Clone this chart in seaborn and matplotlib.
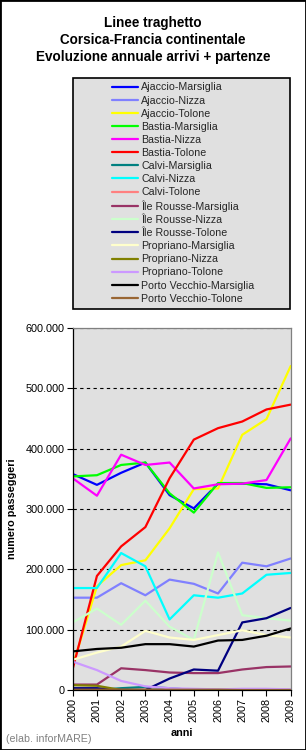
import matplotlib
matplotlib.use("Agg")
import matplotlib.pyplot as plt
from matplotlib.patches import Rectangle
from matplotlib.ticker import FuncFormatter
import seaborn as sns
import pandas as pd

# ---------------- data ----------------
years = [2000, 2001, 2002, 2003, 2004, 2005, 2006, 2007, 2008, 2009]

routes = [
    "Ajaccio-Marsiglia", "Ajaccio-Nizza", "Ajaccio-Tolone",
    "Bastia-Marsiglia", "Bastia-Nizza", "Bastia-Tolone",
    "Calvi-Marsiglia", "Calvi-Nizza", "Calvi-Tolone",
    "Île Rousse-Marsiglia", "Île Rousse-Nizza", "Île Rousse-Tolone",
    "Propriano-Marsiglia", "Propriano-Nizza", "Propriano-Tolone",
    "Porto Vecchio-Marsiglia", "Porto Vecchio-Tolone",
]

colors = [
    "#0000FF", "#8080FF", "#FFFF00",
    "#00FF00", "#FF00FF", "#FF0000",
    "#008080", "#00FFFF", "#FF8080",
    "#993366", "#CCFFCC", "#000080",
    "#FFFFCC", "#808000", "#CC99FF",
    "#000000", "#996633",
]

ajaccio_marsiglia = [358000, 340000, 360000, 377000, 323000, 301000, 342000, 342000, 341000, 331000]
ajaccio_nizza = [153000, 153000, 177000, 157000, 183000, 176000, 160000, 211000, 205000, 218000]
ajaccio_tolone = [40000, 172000, 207000, 215000, 268000, 333000, 334000, 423000, 449000, 537000]
bastia_marsiglia = [354000, 356000, 373000, 377000, 326000, 294000, 343000, 343000, 335000, 336000]
bastia_nizza = [351000, 322000, 390000, 373000, 377000, 334000, 341000, 342000, 348000, 417000]
bastia_tolone = [35000, 189000, 238000, 270000, 351000, 415000, 434000, 445000, 465000, 473000]
calvi_marsiglia = [0, 0, 3000, 5000, 3000, 0, 0, 0, 0, 0]
calvi_nizza = [169000, 169000, 227000, 205000, 117000, 157000, 153000, 160000, 191000, 194000]
calvi_tolone = [0, 0, 0, 0, 0, 0, 0, 1500, 1500, 0]
ile_rousse_marsiglia = [9000, 9000, 36000, 33000, 29000, 28000, 28000, 34000, 38000, 39000]
ile_rousse_nizza = [112000, 135000, 108000, 148000, 105000, 83000, 228000, 124000, 119000, 115000]
ile_rousse_tolone = [3000, 3000, 0, 0, 19000, 34000, 32000, 112000, 119000, 136000]
propriano_marsiglia = [50000, 62000, 72000, 98000, 87000, 83000, 91000, 99000, 91000, 87000]
propriano_nizza = [8000, 7000, 0, 0, 0, 0, 0, 0, 0, 0]
propriano_tolone = [47000, 33000, 15000, 6000, 3000, 2000, 1000, 2000, 2000, 1000]
porto_vecchio_marsiglia = [64000, 68000, 70000, 76000, 76000, 72000, 82000, 83000, 90000, 102000]
porto_vecchio_tolone = [500, 500, 500, 500, 500, 500, 500, 0, 0, 0]

series = [
    ajaccio_marsiglia, ajaccio_nizza, ajaccio_tolone,
    bastia_marsiglia, bastia_nizza, bastia_tolone,
    calvi_marsiglia, calvi_nizza, calvi_tolone,
    ile_rousse_marsiglia, ile_rousse_nizza, ile_rousse_tolone,
    propriano_marsiglia, propriano_nizza, propriano_tolone,
    porto_vecchio_marsiglia, porto_vecchio_tolone,
]

title_lines = ["Linee traghetto", "Corsica-Francia continentale",
               "Evoluzione annuale arrivi + partenze"]

rows = []
for r, vals in zip(routes, series):
    for y, v in zip(years, vals):
        rows.append({"anno": y, "passeggeri": v, "rotta": r})
df = pd.DataFrame(rows)

# ---------------- style ----------------
sns.set_theme(style="white")
plt.rcParams["font.family"] = ["Liberation Sans", "DejaVu Sans"]

W, H = 306, 750
fig = plt.figure(figsize=(W / 100, H / 100), dpi=100)
fig.patch.set_facecolor("white")

ax_l, ax_r, ax_t, ax_b = 72.7, 290.7, 328, 690
ax = fig.add_axes([ax_l / W, 1 - ax_b / H, (ax_r - ax_l) / W, (ax_b - ax_t) / H])

sns.lineplot(data=df, x="anno", y="passeggeri", hue="rotta", hue_order=routes,
             palette=dict(zip(routes, colors)), linewidth=1.6, legend=False,
             estimator=None, sort=False, ax=ax)

ax.set_facecolor("#E0E0E0")
ax.set_xlim(2000, 2009)
ax.set_ylim(0, 600000)
ax.set_xticks(years)
ax.set_xticklabels([str(y) for y in years], rotation=90)
ax.set_yticks(range(0, 600001, 100000))
ax.yaxis.set_major_formatter(FuncFormatter(
    lambda v, p: "0" if v == 0 else f"{int(v):,}".replace(",", ".")))
ax.tick_params(axis="both", which="major", direction="out", length=4, width=0.8,
               colors="black", labelsize=7.8, pad=2, bottom=True, left=True)
ax.grid(axis="y", color="black", linestyle=(0, (3, 3)), linewidth=0.8)
ax.grid(axis="x", visible=False)
ax.set_axisbelow(True)

for s in ["left", "bottom"]:
    ax.spines[s].set_color("black")
    ax.spines[s].set_linewidth(0.9)
for s in ["top", "right"]:
    ax.spines[s].set_color("#808080")
    ax.spines[s].set_linewidth(0.9)

ax.set_ylabel("numero passeggeri", fontsize=7.8, fontweight="bold", color="black")
ax.yaxis.set_label_coords((17.5 - ax_l) / (ax_r - ax_l), 0.5)
ax.set_xlabel("anni", fontsize=7.8, fontweight="bold", color="black")
ax.xaxis.set_label_coords(0.5, (ax_b - 728) / (ax_b - ax_t))

# ---------------- title ----------------
for txt, yc in zip(title_lines, [23, 40.5, 57.5]):
    fig.text(153 / W, 1 - yc / H, txt, ha="center", va="center",
             fontsize=9.75, fontweight="bold", color="black")

# ---------------- legend ----------------
lg_l, lg_r, lg_t, lg_b = 72.7, 290, 78.3, 309.3
fig.add_artist(Rectangle((lg_l / W, 1 - lg_b / H), (lg_r - lg_l) / W, (lg_b - lg_t) / H,
                         transform=fig.transFigure, facecolor="#E0E0E0",
                         edgecolor="black", linewidth=1.2, zorder=0))
handles = ax.get_lines()[:len(routes)]
fig.legend(handles=handles, labels=routes, loc="upper left",
           bbox_to_anchor=(111.7 / W, 1 - 82.5 / H), bbox_transform=fig.transFigure,
           frameon=False, fontsize=7.7, handlelength=2.5, handletextpad=0.25,
           labelspacing=0.29, borderpad=0, borderaxespad=0)

# ---------------- footnote & border ----------------
fig.text(6 / W, 1 - 739 / H, "(elab. inforMARE)", ha="left", va="center",
         fontsize=7.7, color="#808080")
fig.add_artist(Rectangle((0, 0), 1, 1, transform=fig.transFigure, fill=False,
                         edgecolor="black", linewidth=2))

fig.savefig("out.png", dpi=100)
